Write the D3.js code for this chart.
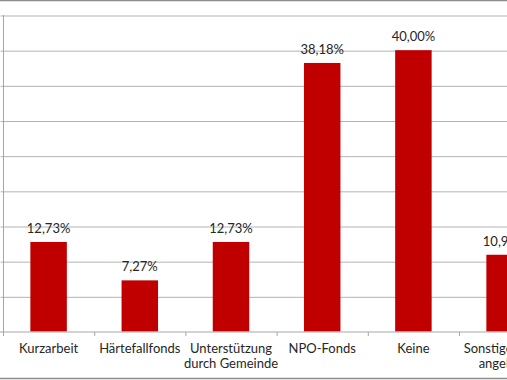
<!DOCTYPE html>
<html><head><meta charset="utf-8">
<script src="https://cdn.jsdelivr.net/npm/d3@7"></script>
<style>
html,body{margin:0;padding:0;background:#fff;overflow:hidden;}
svg{display:block;font-family:Lato,"Open Sans",sans-serif;}
</style></head>
<body>
<script>
const categories = ["Kurzarbeit", "Härtefallfonds", "Unterstützung durch Gemeinde", "NPO-Fonds", "Keine", "Sonstige (bitte angeben)"];
const labelLines = [["Kurzarbeit"], ["Härtefallfonds"], ["Unterstützung", "durch Gemeinde"], ["NPO-Fonds"], ["Keine"], ["Sonstige (bitte", "angeben)"]];
const values = [12.73, 7.27, 12.73, 38.18, 40.00, 10.91];
const valueLabels = ["12,73%", "7,27%", "12,73%", "38,18%", "40,00%", "10,91%"];
const yTicks = [0, 5, 10, 15, 20, 25, 30, 35, 40, 45];

const W = 507, H = 380;
const svg = d3.select("body").append("svg").attr("width", W).attr("height", H);

// outer frame lines
svg.append("line").attr("x1", 0).attr("x2", W).attr("y1", 0.5).attr("y2", 0.5).attr("stroke", "#8c8c8c").attr("stroke-width", 1.5);
svg.append("line").attr("x1", 0).attr("x2", W).attr("y1", 378.5).attr("y2", 378.5).attr("stroke", "#8c8c8c").attr("stroke-width", 1.5);

const x0 = 3, bandW = 91.2;
const x = d3.scaleBand().domain(categories).range([x0, x0 + bandW * categories.length]).paddingInner(0.6).paddingOuter(0.3);
const y = d3.scaleLinear().domain([0, 45]).range([331.5, 15]);

// gridlines + y axis ticks
const yAxis = d3.axisLeft(y).tickValues(yTicks).tickSize(-(W + 10)).tickFormat("");
const gy = svg.append("g").attr("transform", `translate(${x0 + 0.5},0)`).call(yAxis);
gy.select(".domain").remove();
gy.selectAll(".tick line").attr("stroke", "#b3b3b3").attr("x1", -3).attr("transform", "translate(0,0.5)");
gy.selectAll(".tick").each(function(d){ if (d === 0) d3.select(this).remove(); });

// y axis line
svg.append("line").attr("x1", x0 + 0.5).attr("x2", x0 + 0.5).attr("y1", y(45)).attr("y2", y(0) + 4).attr("stroke", "#a6a6a6");

// bars
svg.selectAll("rect.bar").data(values).enter().append("rect")
  .attr("class", "bar")
  .attr("x", (d, i) => x(categories[i]))
  .attr("width", x.bandwidth())
  .attr("y", d => y(d))
  .attr("height", d => y(0) - y(d))
  .attr("fill", "#c00000");

// x axis
const xAxis = d3.axisBottom(x).tickSize(0).tickFormat("");
const gx = svg.append("g").attr("transform", `translate(0,${y(0) + 0.5})`).call(xAxis);
gx.select(".domain").attr("stroke", "#a6a6a6").attr("d", `M${x0 - 3},0H${W + 10}`);
// category separator ticks
const sepPos = d3.range(categories.length + 1).map(i => x0 + bandW * i);
gx.selectAll("line.sep").data(sepPos).enter().append("line")
  .attr("class", "sep").attr("x1", d => d + 0.5).attr("x2", d => d + 0.5)
  .attr("y1", 0).attr("y2", 4).attr("stroke", "#a6a6a6");

// category labels
const cx = c => x(c) + x.bandwidth() / 2;
labelLines.forEach((lines, i) => {
  const t = svg.append("text").attr("x", cx(categories[i])).attr("y", 353)
    .attr("text-anchor", "middle").attr("font-size", 13).attr("fill", "#262626");
  lines.forEach((ln, j) => t.append("tspan").attr("x", cx(categories[i])).attr("dy", j === 0 ? 0 : 15).text(ln));
});

// value labels
svg.selectAll("text.val").data(values).enter().append("text")
  .attr("class", "val")
  .attr("x", (d, i) => cx(categories[i]))
  .attr("y", d => y(d) - 9)
  .attr("text-anchor", "middle").attr("font-size", 13).attr("fill", "#262626")
  .text((d, i) => valueLabels[i]);
</script>
</body></html>
